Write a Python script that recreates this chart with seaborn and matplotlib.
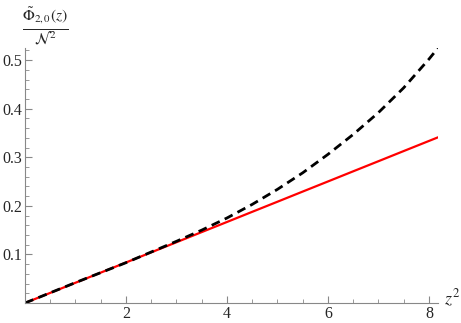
import matplotlib
matplotlib.use("Agg")
import matplotlib.pyplot as plt
import pandas as pd
import seaborn as sns
from matplotlib.ticker import MultipleLocator

# values
z2 = [0, 1, 2, 3, 3.5, 4, 4.5, 5, 5.5, 6, 6.5, 7, 7.5, 8, 8.18]
phi_full = [0, 0.042, 0.083, 0.127, 0.150, 0.175, 0.203, 0.234, 0.268,
            0.306, 0.347, 0.392, 0.443, 0.502, 0.525]
phi_linear = [0, 0.0417, 0.0834, 0.1251, 0.146, 0.1668, 0.1877, 0.2085, 0.2294,
              0.2502, 0.2711, 0.2919, 0.3128, 0.3336, 0.3411]

sns.set_style("ticks")
plt.rcParams["font.family"] = "serif"
plt.rcParams["font.serif"] = ["Liberation Serif", "DejaVu Serif"]
plt.rcParams["mathtext.fontset"] = "stix"

df = pd.DataFrame({"z2": z2, "full": phi_full, "linear": phi_linear})

fig = plt.figure(figsize=(4.61, 3.23), dpi=100)
ax = fig.add_axes([25 / 461, 20 / 323, 413 / 461, 255 / 323])

sns.lineplot(data=df, x="z2", y="linear", ax=ax, color="#ff0000", lw=1.6)
sns.lineplot(data=df, x="z2", y="full", ax=ax, color="black", lw=2.0,
             linestyle=(0, (3.2, 2.0)))

ax.set_xlim(0, 8.18)
ax.set_ylim(0, 0.525)
ax.xaxis.set_minor_locator(MultipleLocator(0.5))
ax.yaxis.set_minor_locator(MultipleLocator(0.02))
ax.set_xticks([2, 4, 6, 8])
ax.set_yticks([0.1, 0.2, 0.3, 0.4, 0.5])
ax.set_xticklabels(["2", "4", "6", "8"])
ax.set_yticklabels(["0.1", "0.2", "0.3", "0.4", "0.5"])

for s in ["top", "right"]:
    ax.spines[s].set_visible(False)
for s in ["left", "bottom"]:
    ax.spines[s].set_color("#888888")
    ax.spines[s].set_linewidth(0.8)

ax.tick_params(which="major", direction="in", length=5, width=0.8, color="#888888",
               labelsize=11.5, pad=2)
ax.tick_params(which="minor", direction="in", length=3, width=0.6, color="#888888")

ax.set_xlabel("")
ax.set_ylabel("")
fig.text(452 / 461, 1 - 298 / 323, r"$z^2$", fontsize=13, ha="center", va="center")
fig.text(45 / 461, 1 - 26 / 323, r"$\frac{\tilde{\Phi}_{2,0}(z)}{\mathcal{N}^2}$",
         fontsize=16, ha="center", va="center")

fig.savefig("out.png", dpi=100)
